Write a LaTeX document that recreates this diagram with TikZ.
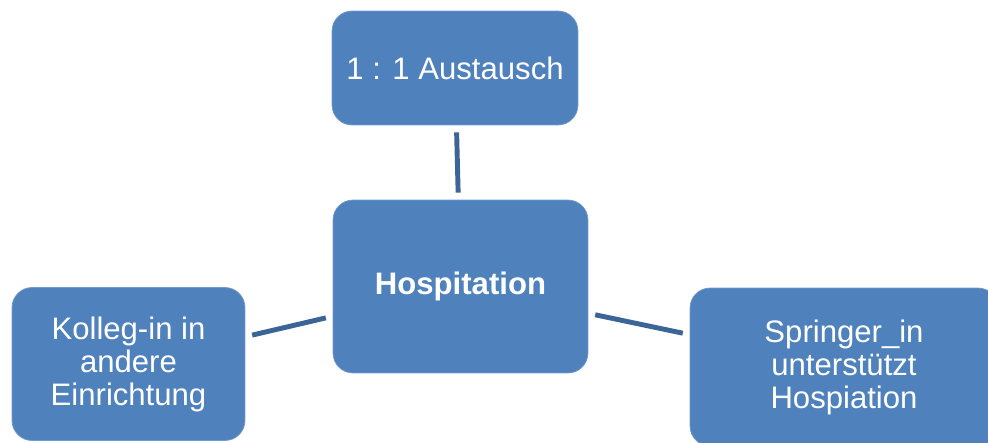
\documentclass[tikz,border=0pt]{standalone}
\usepackage{fontspec}
\setmainfont{Liberation Sans}
\definecolor{boxblue}{HTML}{4F81BD}
\definecolor{linkblue}{HTML}{3B6497}
\begin{document}
\begin{tikzpicture}[x=0.02cm,y=-0.02cm,
  font=\fontsize{17.7}{18.8}\selectfont,
  topic/.style={fill=boxblue,draw=boxblue!80!white,rounded corners=0.4cm,
    text=white,align=center,inner sep=0pt},
  link/.style={draw=linkblue,line width=2.8pt,shorten >=4pt,shorten <=4pt}]
\useasboundingbox (0,0) rectangle (988,443);
\clip (0,0) rectangle (988,443);
\node[topic,minimum width=4.92cm,minimum height=2.28cm] (austausch) at (455,68) {1 : 1 Austausch};
\node[topic,minimum width=5.10cm,minimum height=3.46cm] (hosp) at (460.5,286.5) {\textbf{Hospitation}};
\node[topic,minimum width=4.66cm,minimum height=3.06cm] (kolleg) at (128.5,364) {Kolleg-in in\\andere\\Einrichtung};
\node[topic,minimum width=6.16cm,minimum height=3.16cm] (springer) at (844,367) {Springer\_in\\unterstützt\\Hospiation};
\draw[link] (austausch) -- (hosp);
\draw[link] (kolleg) -- (hosp);
\draw[link] (hosp) -- (springer);
\end{tikzpicture}
\end{document}
